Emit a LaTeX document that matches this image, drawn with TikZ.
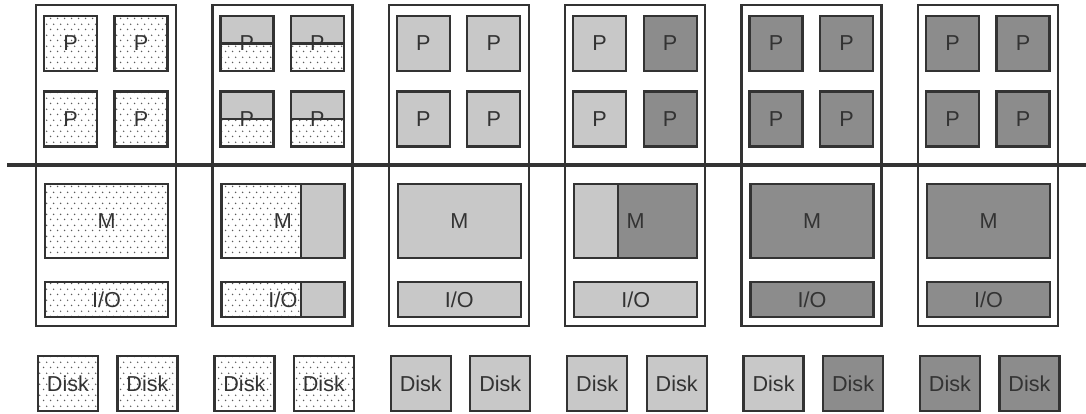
\documentclass[tikz,border=0pt]{standalone}
\usepackage{fontspec}
\setmainfont{Liberation Sans}
\usetikzlibrary{calc,patterns.meta}
\definecolor{ink}{HTML}{333333}
\definecolor{lite}{HTML}{C8C8C8}
\definecolor{deep}{HTML}{8C8C8C}
\definecolor{speck}{HTML}{5A5A5A}

\tikzdeclarepattern{
  name=specks,
  type=uncolored,
  bounding box={(0pt,0pt) and (4pt,6pt)},
  tile size={(4pt,6pt)},
  code={
    \fill (1pt,1.5pt) circle (0.5pt);
    \fill (3pt,4.5pt) circle (0.5pt);
  }
}

\tikzset{
  box/.style={draw=ink,line width=1.3pt,inner sep=0pt},
  frame/.style={box,minimum width=2.8cm,minimum height=6.42cm},
  proc/.style={box,minimum width=1.06cm,minimum height=1.1cm},
  mem/.style={box,minimum width=2.46cm,minimum height=1.48cm},
  iobox/.style={box,minimum width=2.46cm,minimum height=0.7cm},
  disk/.style={box,minimum width=1.2cm,minimum height=1.1cm},
  fspeck/.style={pattern=specks,pattern color=speck},
  flite/.style={fill=lite},
  fdeep/.style={fill=deep},
  rpart/.style 2 args={path picture={
    \coordinate (cut) at ($(path picture bounding box.south west)!#1!(path picture bounding box.south east)$);
    \fill[#2] (cut) rectangle (path picture bounding box.north east);
    \draw[ink,line width=1.3pt] (cut) -- (cut |- path picture bounding box.north);
  }},
  halfproc/.style={fspeck,path picture={
    \fill[lite] (path picture bounding box.north west) rectangle (path picture bounding box.east);
    \draw[ink,line width=1.3pt] (path picture bounding box.west) -- (path picture bounding box.east);
  }},
  splitmem/.style={fspeck,rpart={0.65}{lite}},
  mixmem/.style={flite,rpart={0.355}{deep}},
  bus/.style={draw=ink,line width=2.2pt}
}

\begin{document}
\begin{tikzpicture}[x=0.02cm,y=-0.02cm,font=\fontsize{12.3}{14}\selectfont,text=ink]
  \useasboundingbox (0,0) rectangle (1086,413);

  % one column per snapshot: left P, right P, M, I/O, left disk, right disk
  \foreach \i/\pl/\pr/\mm/\io/\dl/\dr in {
      1/fspeck/fspeck/fspeck/fspeck/fspeck/fspeck,
      2/halfproc/halfproc/splitmem/splitmem/fspeck/fspeck,
      3/flite/flite/flite/flite/flite/flite,
      4/flite/fdeep/mixmem/flite/flite/flite,
      5/fdeep/fdeep/fdeep/fdeep/flite/fdeep,
      6/fdeep/fdeep/fdeep/fdeep/fdeep/fdeep}{
    \pgfmathsetmacro{\L}{35+176.4*(\i-1)}
    \node[frame] (sys\i) at (\L+71,165.5) {};
    \node[proc,\pl] (p\i-1) at (\L+35.5,43.5) {P};
    \node[proc,\pr] (p\i-2) at (\L+106,43.5) {P};
    \node[proc,\pl] (p\i-3) at (\L+35.5,119) {P};
    \node[proc,\pr] (p\i-4) at (\L+106,119) {P};
    \node[mem,\mm] (m\i) at (\L+71.5,221) {M};
    \node[iobox,\io] (io\i) at (\L+71.5,299.5) {I/O};
    \node[disk,\dl] (d\i-1) at (\L+33,383.5) {Disk};
    \node[disk,\dr] (d\i-2) at (\L+112.5,383.5) {Disk};
  }

  % shared interconnect
  \coordinate (busw) at (7,165);
  \coordinate (buse) at (1086,165);
  \draw[bus] (busw) -- (buse);
\end{tikzpicture}
\end{document}
